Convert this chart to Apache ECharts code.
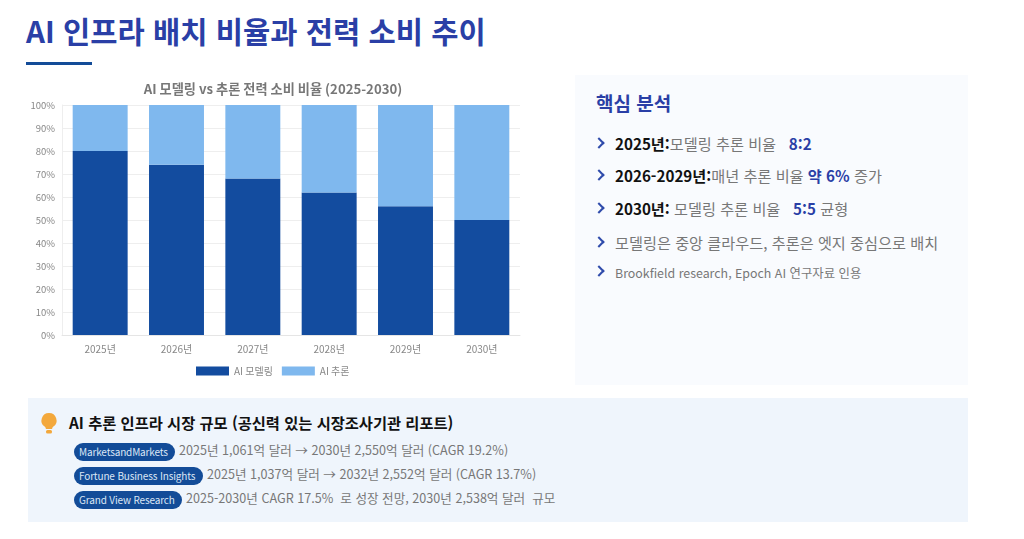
<!DOCTYPE html>
<html lang="ko"><head><meta charset="utf-8">
<script src="https://cdn.jsdelivr.net/npm/echarts@6/dist/echarts.min.js"></script>
<style>
html,body{margin:0;padding:0;background:#fff;width:1024px;height:539px;overflow:hidden;font-family:"Noto Sans CJK KR","Noto Sans",sans-serif}
.a{position:absolute;white-space:nowrap}
#title{left:26px;top:11px;font-size:29.6px;font-weight:700;color:#2a3fa6;line-height:40px}
#rule{left:26px;top:62px;width:66px;height:3px;background:#134c98}
#chart{left:20px;top:72px;width:510px;height:318px}
#panel{left:575px;top:75px;width:393px;height:310px;background:#f9fbfe}
#ptitle{left:596px;top:89px;font-size:19px;font-weight:700;color:#2a3fa6;line-height:28px}
.li{left:615px;font-size:15.2px;color:#777;line-height:20px}
.li b{color:#111;font-weight:700}.li i{font-style:normal;font-weight:700;color:#2a3fa6}
.ch{left:595px;width:6px;height:6px;border-top:2.2px solid #2f4bab;border-right:2.2px solid #2f4bab;transform:rotate(45deg)}
#bottom{left:28px;top:398px;width:940px;height:124px;background:#eff5fc}
#btitle{left:69px;top:411px;font-size:15.3px;font-weight:700;color:#111;line-height:22px}
.pill{left:74px;height:18px;line-height:18px;background:#134c98;color:#dbe6f5;border-radius:9px;font-size:10px;padding-left:5px;box-sizing:border-box;letter-spacing:-.15px}
.tx{font-size:12.6px;color:#777;line-height:20px}
</style></head><body>
<div class="a" id="title">AI 인프라 배치 비율과 전력 소비 추이</div>
<div class="a" id="rule"></div>
<div class="a" id="chart"></div>
<div class="a" id="panel"></div>
<div class="a" id="ptitle">핵심 분석</div>
<div id="list"></div>
<div class="a" id="bottom"></div>
<svg class="a" style="left:39px;top:412px" width="20" height="23" viewBox="0 0 20 23"><path d="M10 1a7.5 7.5 0 0 0-4.4 13.6c.9.7 1.2 1.5 1.3 2.4h6.2c.1-.9.4-1.7 1.3-2.4A7.5 7.5 0 0 0 10 1z" fill="#f3a83c"/><rect x="7" y="18" width="6" height="3.5" rx="1.5" fill="#f3a83c"/></svg>
<div class="a" id="btitle">AI 추론 인프라 시장 규모 (공신력 있는 시장조사기관 리포트)</div>
<div id="rows"></div>
<script>
const categories=['2025년','2026년','2027년','2028년','2029년','2030년'];
const modeling=[80,74,68,62,56,50];
const inference=[20,26,32,38,44,50];
const seriesNames=['AI 모델링','AI 추론'];
const yTicks=[0,10,20,30,40,50,60,70,80,90,100];
const chartTitle='AI 모델링 vs 추론 전력 소비 비율 (2025-2030)';
const notes=[
 ['<b>2025년:</b>모델링 추론 비율 &nbsp; <i>8:2</i>',133],
 ['<b>2026-2029년:</b>매년 추론 비율 <i>약 6%</i> 증가',165],
 ['<b>2030년:</b> 모델링 추론 비율 &nbsp; <i>5:5</i> 균형',198],
 ['모델링은 중앙 클라우드, 추론은 엣지 중심으로 배치',232],
 ['<span style="font-size:12.4px">Brookfield research, Epoch AI 연구자료 인용</span>',261]];
const sources=[
 ['MarketsandMarkets',101,'2025년 1,061억 달러 → 2030년 2,550억 달러 (CAGR 19.2%)',179,441],
 ['Fortune Business Insights',129,'2025년 1,037억 달러 → 2032년 2,552억 달러 (CAGR 13.7%)',207,465],
 ['Grand View Research',108,'2025-2030년 CAGR 17.5% &nbsp;로 성장 전망, 2030년 2,538억 달러 &nbsp;규모',186,489]];
document.getElementById('list').innerHTML=notes.map(n=>`<div class="a ch" style="top:${n[1]+6}px"></div><div class="a li" style="top:${n[1]}px">${n[0]}</div>`).join('');
document.getElementById('rows').innerHTML=sources.map(s=>`<div class="a pill" style="top:${s[4]+2}px;width:${s[1]}px">${s[0]}</div><div class="a tx" style="left:${s[3]}px;top:${s[4]-1}px">${s[2]}</div>`).join('');
const font='"Noto Sans CJK KR","Noto Sans",sans-serif';
const chart=echarts.init(document.getElementById('chart'),null,{renderer:'canvas'});
chart.setOption({
 animation:false,
 title:{text:chartTitle,left:248,top:5,textAlign:'center',textStyle:{fontSize:13.2,fontWeight:'bold',color:'#777',fontFamily:font}},
 grid:{left:42,right:10,top:33,bottom:55,containLabel:false},
 legend:{bottom:9,left:171,itemWidth:33,itemHeight:9,itemGap:9,icon:'rect',data:seriesNames,textStyle:{fontSize:10,color:'#888',fontFamily:font}},
 xAxis:{type:'category',data:categories,axisTick:{show:false},axisLine:{lineStyle:{color:'#e5e5e5'}},axisLabel:{fontSize:10,color:'#888',margin:9,fontFamily:font}},
 yAxis:{type:'value',min:yTicks[0],max:yTicks[yTicks.length-1],interval:yTicks[1]-yTicks[0],
  axisLine:{show:true,lineStyle:{color:'#eee'}},axisTick:{show:false},splitLine:{lineStyle:{color:'#eeeeee'}},
  axisLabel:{formatter:'{value}%',fontSize:9.5,color:'#888',margin:7,fontFamily:font}},
 series:[
  {name:seriesNames[0],type:'bar',stack:'a',barWidth:'72%',data:modeling,itemStyle:{color:'#134c9f'}},
  {name:seriesNames[1],type:'bar',stack:'a',barWidth:'72%',data:inference,itemStyle:{color:'#7fb8ee'}}]
});
</script></body></html>
